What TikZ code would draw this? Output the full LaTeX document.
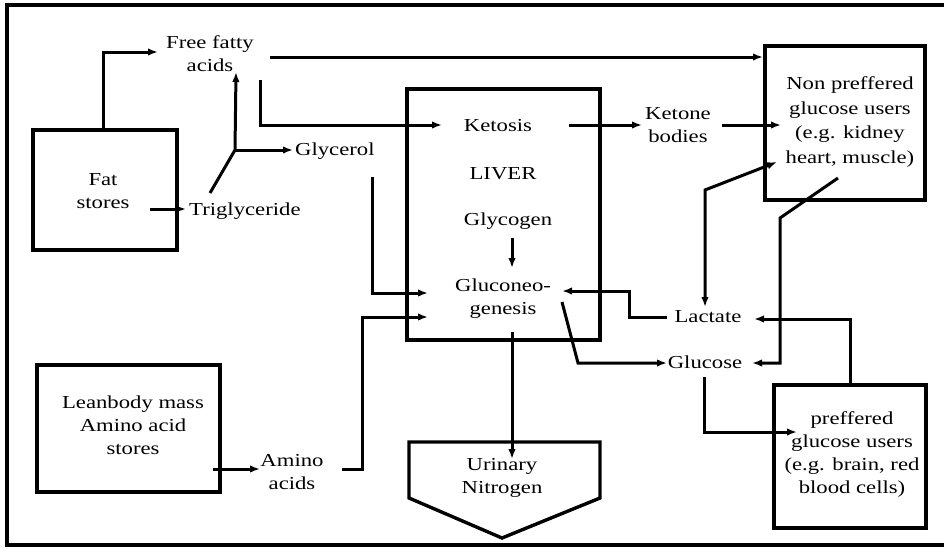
\documentclass[tikz,border=0pt]{standalone}
\usepackage{fontspec}
\setmainfont{Liberation Serif}[FakeStretch=1.24]
\usetikzlibrary{arrows.meta}
\begin{document}
\begin{tikzpicture}[x=1pt,y=-1pt,
  flow/.style={line width=3pt,-{Latex[length=10pt,width=7.5pt]}},
  plain/.style={line width=3pt},
  bx/.style={draw,line width=3.4pt},
  lbl/.style={font=\fontsize{18.3}{23}\selectfont,align=center,inner sep=0pt}]
\useasboundingbox (0,0) rectangle (944,547);
% outer frame (open on the right)
\draw[line width=3.4pt] (944,5) -- (7,5) -- (7,545) -- (944,545);

% boxes
\draw[bx] (33,130) rectangle (177,250);
\node[lbl] (fat) at (103,191) {Fat\\stores};
\draw[bx] (37,365) rectangle (220,492);
\node[lbl] (lean) at (133,425) {Leanbody mass\\Amino acid\\stores};
\draw[bx] (407,89) rectangle (600,340);
\draw[bx] (765,46) rectangle (925,200);
\node[lbl,font=\fontsize{18.3}{24.5}\selectfont] (nonpref) at (850,122) {Non preffered\\glucose users\\(e.g. kidney\\heart, muscle)};
\draw[bx] (774,385) rectangle (926,528);
\node[lbl] (pref) at (852,454) {preffered\\glucose users\\(e.g. brain, red\\blood cells)};
\draw[bx] (409,442) -- (600,442) -- (600,498) -- (502,538) -- (409,498) -- cycle;
\node[lbl] (urin) at (502,478) {Urinary\\Nitrogen};

% free labels
\node[lbl] (ffa) at (210,54) {Free fatty\\acids};
\node[lbl,anchor=west] (trig) at (189,211) {Triglyceride};
\node[lbl,anchor=west] (glyc) at (295,151) {Glycerol};
\node[lbl] (ketosis) at (498,126) {Ketosis};
\node[lbl] (liver) at (503,174) {LIVER};
\node[lbl] (glycogen) at (508,221) {Glycogen};
\node[lbl] (gng) at (503,299) {Gluconeo-\\genesis};
\node[lbl] (ketone) at (678,125) {Ketone\\bodies};
\node[lbl] (lactate) at (708,317) {Lactate};
\node[lbl] (glucose) at (705,362) {Glucose};
\node[lbl] (amino) at (292,472) {Amino\\acids};

% junction of the triglyceride split
\coordinate (split) at (235,150);

% connectors
\draw[flow] (103,130) |- (158,52);
\draw[flow] (150,209) -- (186,209);
\draw[plain] (210,193) -- (split);
\draw[flow] (split) -- (236,72);
\draw[flow] (split) -- (293,150);
\draw[flow] (260,80) |- (442,125);
\draw[flow] (270,57) -- (763,57);
\draw[flow] (372,177) |- (428,293);
\draw[flow] (342,469) -- (362,469) -- (362,317) -- (428,317);
\draw[flow] (213,469) -- (260,469);
\draw[flow] (512,238) -- (512,268);
\draw[flow] (512,332) -- (512,459);
\draw[flow] (562,302) -- (578,363) -- (667,363);
\draw[flow] (667,317) -- (629,317) -- (629,291) -- (562,291);
\draw[flow] (569,125) -- (642,125);
\draw[flow] (722,125) -- (781,125);
\draw[line width=3pt,{Latex[length=10pt,width=7.5pt]}-{Latex[length=10pt,width=7.5pt]}] (777,162) -- (705,190) -- (705,307);
\draw[flow] (838,178) -- (780,218) -- (780,363) -- (752,363);
\draw[flow] (704,377) |- (797,432);
\draw[flow] (850,385) |- (754,319);
\end{tikzpicture}
\end{document}
